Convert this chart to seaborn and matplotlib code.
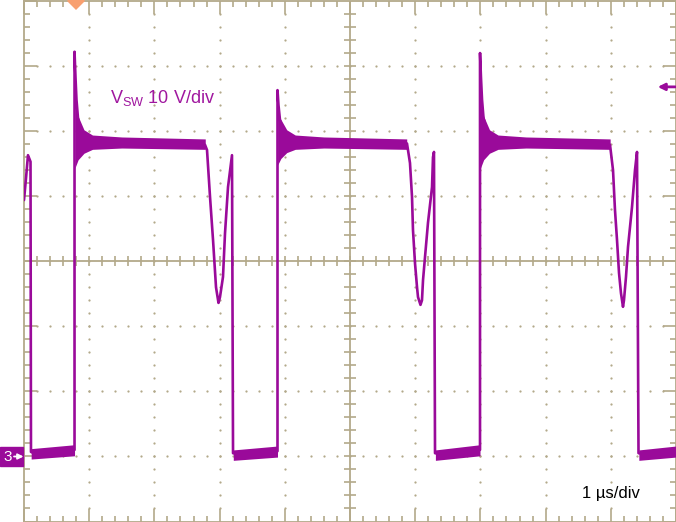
import pandas as pd
import seaborn as sns
import matplotlib.pyplot as plt
from matplotlib.patches import Rectangle, FancyArrowPatch

# switch node waveform, time in us, voltage in V (10 V/div, ground at 0 V)
trace_t = [0.000, 0.031, 0.061, 0.100, 0.107, 0.169, 0.752,
           0.775, 0.775, 0.790, 0.805, 0.828, 0.859, 0.920, 1.012, 1.166, 1.933, 2.776,
           2.807, 2.853, 2.899, 2.945, 2.983, 3.006, 3.052, 3.083, 3.129, 3.190, 3.206,
           3.313, 3.865,
           3.888, 3.888, 3.903, 3.926, 3.957, 4.018, 4.110, 4.233, 5.000, 5.874,
           5.920, 5.951, 5.966, 5.997, 6.028, 6.043, 6.081, 6.104, 6.120, 6.150, 6.196,
           6.258, 6.273, 6.288, 6.304,
           6.457, 6.979,
           6.994, 6.994, 7.009, 7.025, 7.048, 7.086, 7.147, 7.239, 7.393, 8.221, 8.988,
           9.034, 9.064, 9.095, 9.126, 9.156, 9.187, 9.202, 9.233, 9.264, 9.325, 9.371,
           9.402, 9.425,
           9.601, 10.000]
trace_v = [39.4, 42.8, 46.3, 45.3, 0.7, 0.4, 1.0,
           1.0, 62.2, 58.2, 54.8, 52.0, 50.5, 49.2, 48.7, 48.4, 48.2, 47.9,
           47.1, 39.9, 33.3, 26.0, 23.6, 24.5, 27.6, 34.3, 41.4, 46.3, 0.5,
           0.2, 0.8,
           0.8, 56.3, 54.0, 51.7, 50.5, 49.4, 48.8, 48.5, 48.2, 48.1,
           45.1, 39.9, 34.8, 29.7, 26.0, 24.5, 23.3, 24.0, 27.1, 30.6, 35.9,
           41.4, 46.0, 46.8, 0.5,
           0.2, 1.0,
           1.0, 62.0, 58.2, 54.8, 52.0, 50.5, 49.2, 48.7, 48.4, 48.2, 47.9,
           44.0, 37.9, 33.3, 28.2, 25.1, 23.0, 24.0, 27.6, 32.2, 38.3, 44.0,
           46.8, 0.5,
           0.2, 0.8]

# noise bands on the low level
low_t = [[0.11, 0.775], [3.21, 3.888], [6.31, 6.994], [9.43, 10.0]]
low_lo = [[-0.4, 0.1], [-0.6, -0.1], [-0.6, 0.1], [-0.6, -0.1]]
low_hi = [[1.2, 1.8], [1.0, 1.6], [1.0, 1.8], [1.0, 1.6]]

# noise bands on the high level (with ringing after the edge)
plat_t = [[0.78, 0.83, 0.92, 1.05, 1.50, 2.78],
          [3.89, 3.94, 4.03, 4.16, 4.60, 5.87],
          [7.00, 7.05, 7.14, 7.27, 7.70, 8.99]]
plat_lo = [[44.3, 45.6, 46.6, 47.2, 47.4, 47.2],
           [44.8, 45.8, 46.7, 47.2, 47.4, 47.2],
           [44.3, 45.6, 46.6, 47.2, 47.4, 47.2]]
plat_hi = [[54.0, 52.3, 50.2, 49.4, 49.1, 48.8],
           [52.5, 51.8, 50.2, 49.4, 49.1, 48.8],
           [54.0, 52.3, 50.2, 49.4, 49.1, 48.8]]

trig_level = 56.8
trig_pos = 0.8
label = r"V$_{\mathregular{SW}}$ 10 V/div"
time_label = "1 \u00b5s/div"

purple = "#9a0a9a"
grat = "#b3a98a"

sns.set_theme(style="white")
plt.rcParams["font.family"] = ["Liberation Sans", "DejaVu Sans"]
plt.rcParams["mathtext.fontset"] = "custom"
plt.rcParams["mathtext.rm"] = "Liberation Sans"

fig = plt.figure(figsize=(6.76, 5.22), dpi=100)
ax = fig.add_axes([24 / 676, 0.5 / 522, 652 / 676, 520.5 / 522])
ax.set_xlim(0, 10)
ax.set_ylim(-10, 70)

# graticule
for s in ax.spines.values():
    s.set_color(grat)
    s.set_linewidth(1.3)
ax.set_xticks(range(0, 11))
ax.set_yticks(range(-10, 71, 10))
ax.set_xticks([i * 0.2 for i in range(51)], minor=True)
ax.set_yticks([-10 + i * 2 for i in range(41)], minor=True)
ax.tick_params(which="both", direction="in", top=True, right=True, bottom=True, left=True,
               labelbottom=False, labelleft=False, color=grat, width=1.2)
ax.tick_params(which="major", length=9.5)
ax.tick_params(which="minor", length=4.3)

dot_x, dot_y = [], []
for d in [1, 2, 3, 4, 6, 7, 8, 9]:
    for k in range(1, 40):
        dot_x.append(d)
        dot_y.append(-10 + k * 2)
for v in [0, 10, 20, 40, 50, 60]:
    for k in range(1, 50):
        dot_x.append(k * 0.2)
        dot_y.append(v)
ax.scatter(dot_x, dot_y, s=2.6, color=grat, linewidths=0, zorder=1)

ax.axvline(5, color=grat, lw=1.3, zorder=1)
ax.axhline(30, color=grat, lw=1.3, zorder=1)
ax.plot([k * 0.2 for k in range(1, 50)], [30] * 49, ls="none", marker="|",
        ms=7, mew=1.2, color=grat, zorder=1)
ax.plot([5] * 39, [-10 + k * 2 for k in range(1, 40)], ls="none", marker="_",
        ms=8, mew=1.2, color=grat, zorder=1)

# waveform
for t, lo, hi in zip(low_t, low_lo, low_hi):
    ax.fill_between(t, lo, hi, color=purple, lw=0, zorder=3)
for t, lo, hi in zip(plat_t, plat_lo, plat_hi):
    ax.fill_between(t, lo, hi, color=purple, lw=0, zorder=3)
df = pd.DataFrame({"t": trace_t, "v": trace_v})
sns.lineplot(data=df, x="t", y="v", sort=False, estimator=None, color=purple,
             lw=1.9, ax=ax, zorder=4)
ax.set_xlabel("")
ax.set_ylabel("")

ax.text(1.32, 54.3, label, color="#a0179f", fontsize=13, va="baseline")
ax.text(8.56, -6.4, time_label, color="black", fontsize=12, va="baseline")

# trigger markers
ax.annotate("", xy=(9.72, trig_level), xytext=(9.99, trig_level),
            arrowprops=dict(arrowstyle="-|>", color=purple, lw=2.0, mutation_scale=10,
                            shrinkA=0, shrinkB=0))
ax.plot([trig_pos], [70], marker="D", ms=9, color="#f8a070", mew=0, clip_on=False, zorder=6)

# channel 3 ground marker
fig.add_artist(Rectangle((0, 56 / 522), 23 / 676, 19 / 522, transform=fig.transFigure,
                         color=purple, zorder=5))
fig.text(7.5 / 676, 65.0 / 522, "3", color="white", fontsize=11, ha="center", va="center",
         zorder=7)
fig.add_artist(FancyArrowPatch((14, 65.5), (23.5, 65.5), transform=None, arrowstyle="-|>",
                               color="white", lw=1.3, mutation_scale=8, shrinkA=0,
                               shrinkB=0, zorder=7))

fig.savefig("out.png", dpi=100)
